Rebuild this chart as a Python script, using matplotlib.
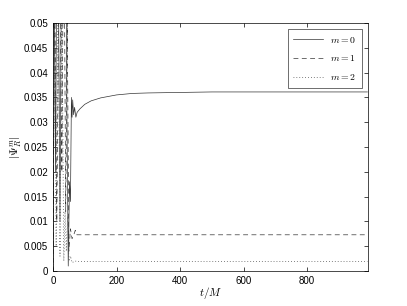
import matplotlib
matplotlib.use("Agg")
import matplotlib.pyplot as plt
import numpy as np

plt.rcParams['font.family'] = ['Liberation Sans', 'DejaVu Sans']
plt.rcParams['mathtext.fontset'] = 'cm'

# m = 0 (solid)
t0 = [0, 1, 8, 14, 22, 30, 36, 40, 44, 48, 52, 55, 58, 60, 62, 65, 68, 72, 76, 85,
      100, 120, 150, 200, 250, 300, 400, 500, 600, 800, 990]
m0 = [0.0, 0.08, 0.02, 0.09, 0.01, 0.1, 0.06, 0.07, 0.03, 0.001, 0.018, 0.014, 0.035,
      0.031, 0.0345, 0.0315, 0.033, 0.031, 0.032, 0.0327, 0.0336, 0.0343, 0.0349,
      0.0355, 0.0358, 0.0359, 0.0360, 0.0361, 0.0361, 0.0361, 0.0361]

# m = 1 (dashed)
t1 = [0, 5, 12, 20, 28, 34, 40, 45, 50, 55, 60, 65, 70, 75, 90, 990]
m1 = [0.0, 0.06, 0.01, 0.07, 0.02, 0.08, 0.012, 0.05, 0.004, 0.0085, 0.0065, 0.0072,
      0.0082, 0.0073, 0.0073, 0.0073]

# m = 2 (dotted)
t2 = [0, 4, 10, 16, 22, 28, 34, 38, 42, 46, 50, 55, 60, 70, 80, 990]
m2 = [0.0, 0.05, 0.005, 0.06, 0.003, 0.055, 0.002, 0.012, 0.004, 0.011, 0.002, 0.003,
      0.0017, 0.002, 0.0019, 0.0019]

xticks = [0, 200, 400, 600, 800]
yticks = [0, 0.005, 0.01, 0.015, 0.02, 0.025, 0.03, 0.035, 0.04, 0.045, 0.05]
ylabels = ['0', '0.005', '0.01', '0.015', '0.02', '0.025', '0.03', '0.035', '0.04', '0.045', '0.05']

fig = plt.figure(figsize=(4.07, 3.06), dpi=100)
ax = fig.add_axes([53/407, 35/306, 315/407, 248/306])

ax.plot(t0, m0, '-', color='#333333', lw=0.5, label='$m=0$')
ax.plot(t1, m1, '--', color='#333333', lw=0.5, dashes=(7, 5), label='$m=1$')
ax.plot(t2, m2, ':', color='#555555', lw=0.6, dashes=(1, 2.5), label='$m=2$')

ax.set_xlim(0, 992)
ax.set_ylim(0, 0.05)
ax.set_xticks(xticks)
ax.set_yticks(yticks)
ax.set_yticklabels(ylabels)
ax.tick_params(direction='in', top=True, right=True, labelsize=7, length=3, width=0.5)
for s in ax.spines.values():
    s.set_linewidth(0.5)

ax.set_xlabel('$t/M$', fontsize=8)
ax.set_ylabel(r'$|\Psi_R^m|$', fontsize=8)
ax.yaxis.set_label_coords(-0.092, 0.5)
ax.xaxis.set_label_coords(0.5, -0.055)

leg = ax.legend(loc='upper right', fontsize=7, fancybox=False, edgecolor='k',
                handlelength=3.0, labelspacing=0.9, borderaxespad=0.6,
                borderpad=0.6)
leg.get_frame().set_linewidth(0.5)

fig.savefig('out.png', dpi=100)
